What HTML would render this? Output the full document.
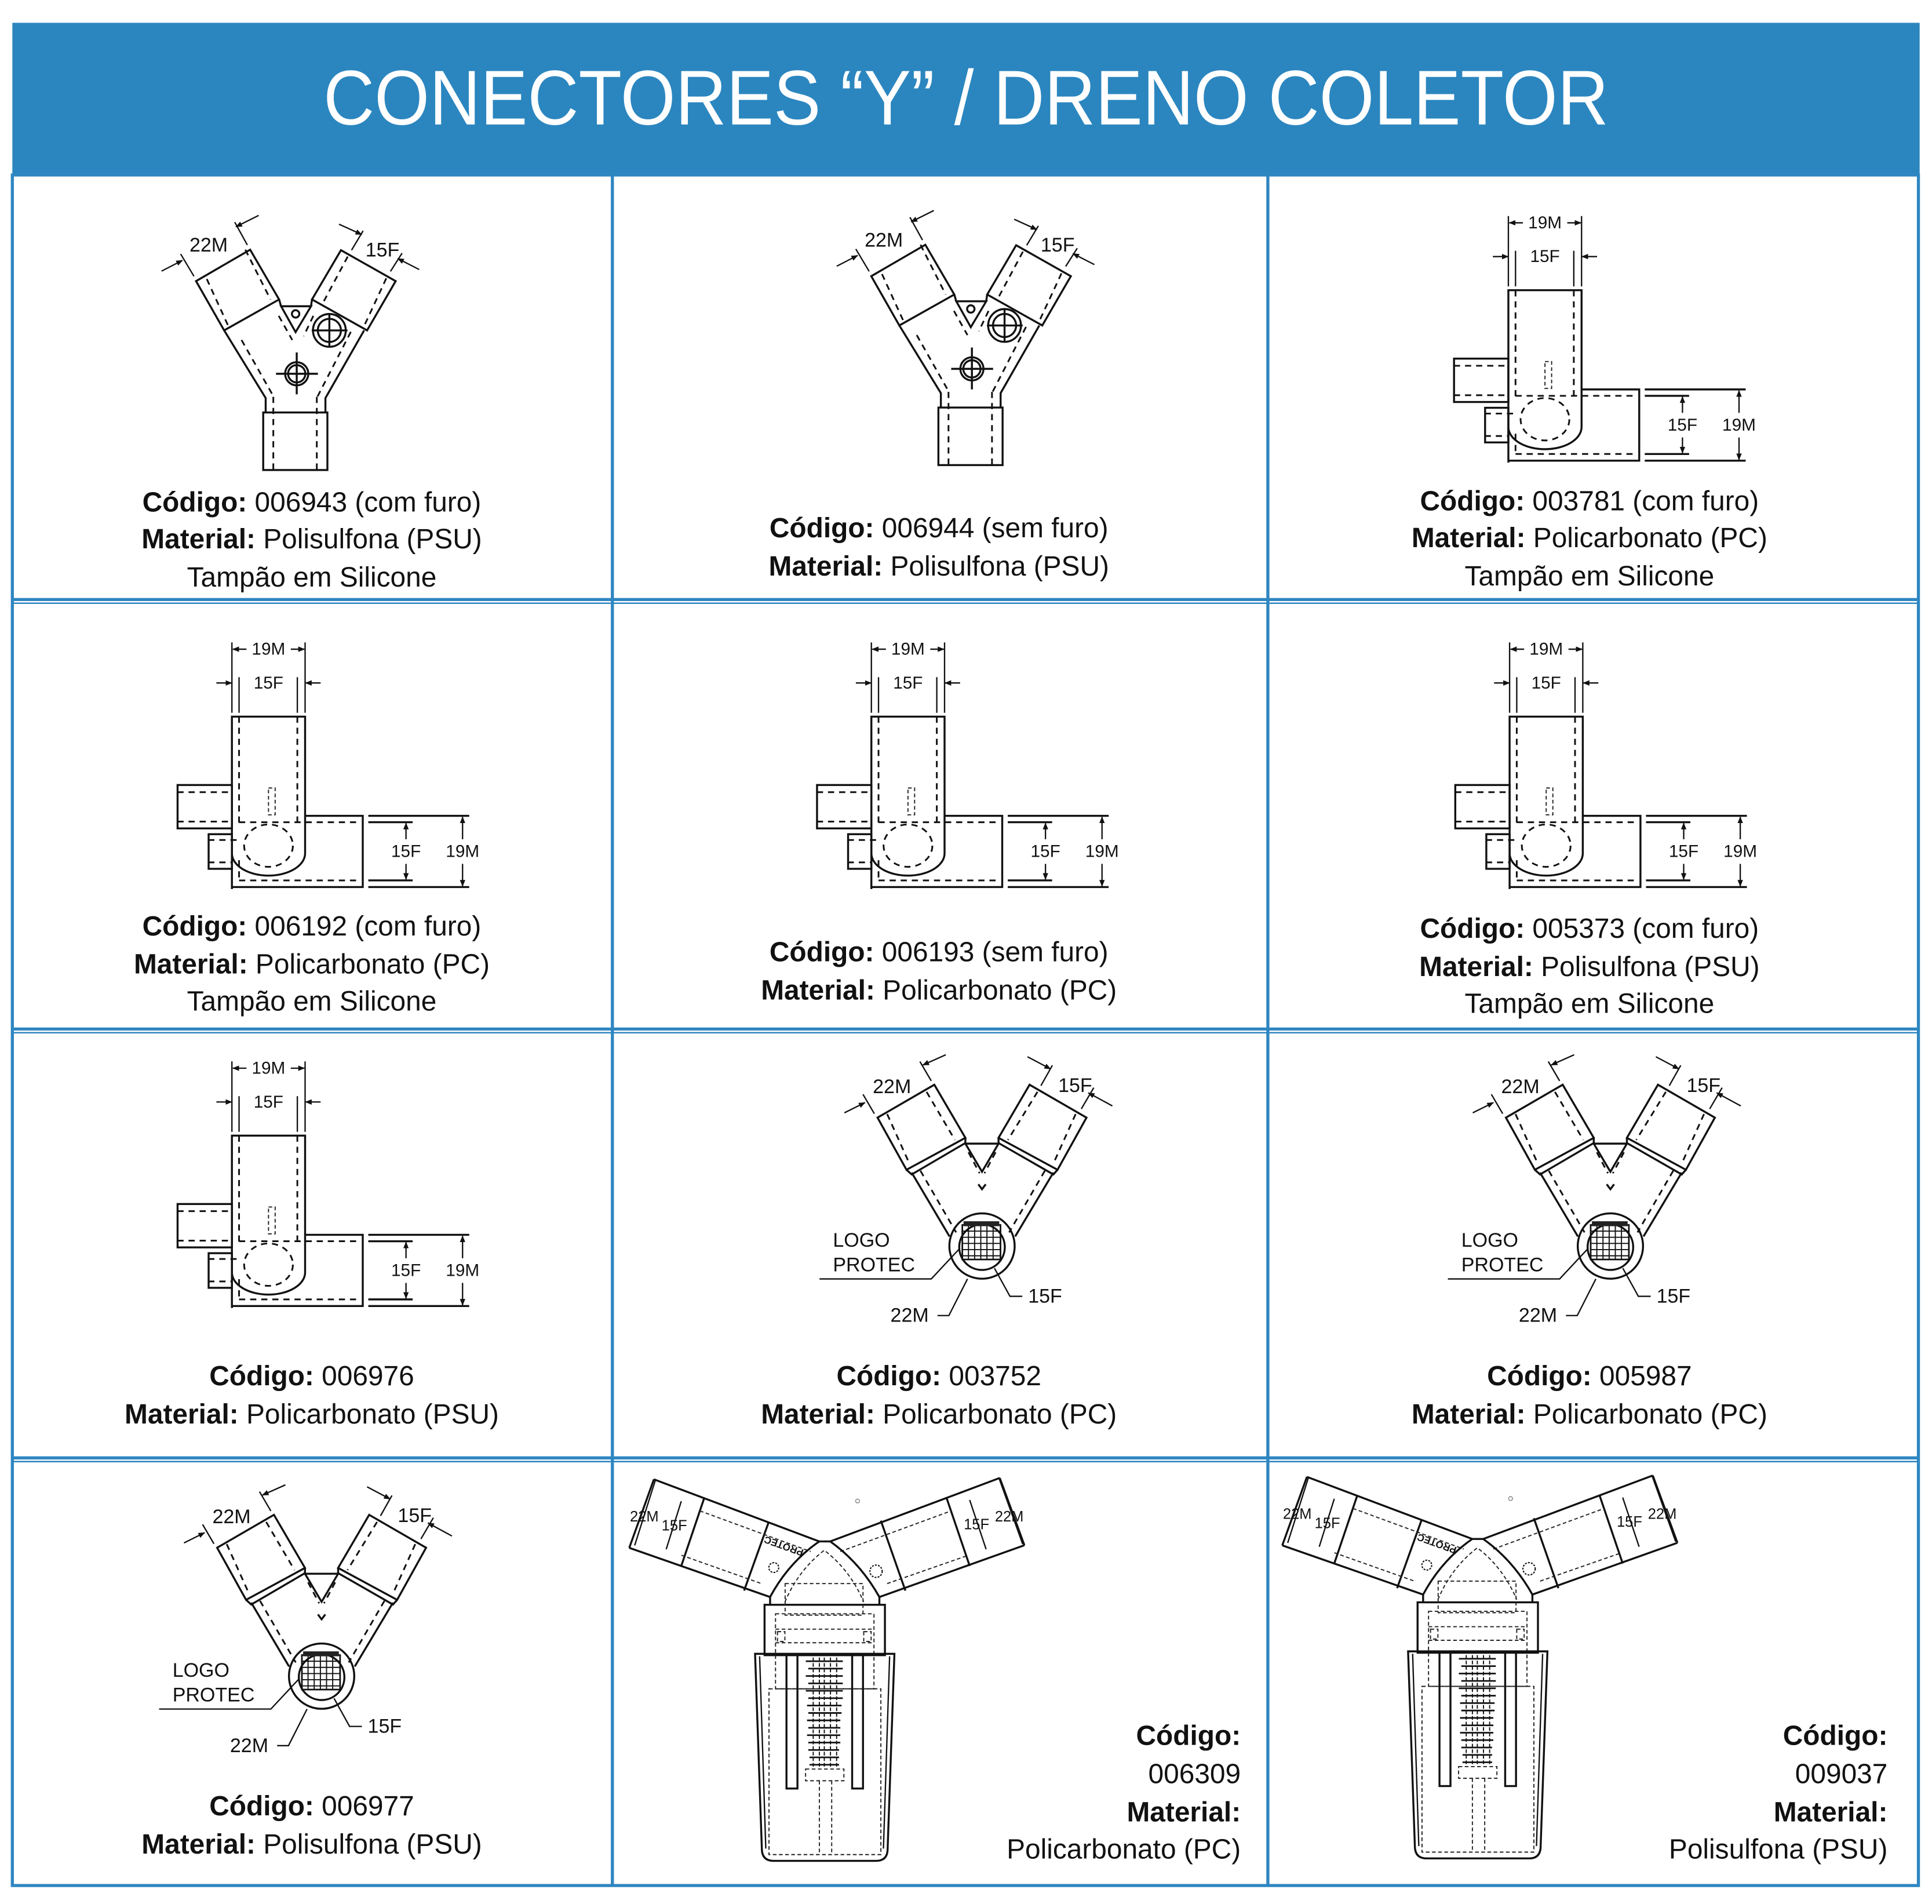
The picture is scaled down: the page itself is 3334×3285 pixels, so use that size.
<!DOCTYPE html>
<html><head><meta charset="utf-8"><style>
html,body{margin:0;padding:0;background:#fff;}
svg{display:block;}
.t{font-family:"Liberation Sans",Arial,sans-serif;fill:#111;}
.cap{font-family:"Liberation Sans",Arial,sans-serif;font-size:22.5px;fill:#111;}
.b{font-weight:bold;}
.ln{fill:none;stroke:#111;stroke-width:1.6;}
.th{fill:none;stroke:#111;stroke-width:1.1;}
.ds{fill:none;stroke:#111;stroke-width:1.4;stroke-dasharray:5 4;}
.dt{fill:none;stroke:#222;stroke-width:0.9;stroke-dasharray:3 2;}
.dl{font-family:"Liberation Sans",Arial,sans-serif;font-size:16px;fill:#111;}
.dm{font-family:"Liberation Sans",Arial,sans-serif;font-size:14px;fill:#111;}
</style></head><body>
<svg width="3334" height="3285" viewBox="0 0 1568 1545" xmlns="http://www.w3.org/2000/svg">
<defs>
<marker id="ar" viewBox="0 0 10 10" refX="9" refY="5" markerWidth="5" markerHeight="5" orient="auto"><path d="M0,1 L10,5 L0,9 Z" fill="#111"/></marker>
<g id="Y1">
  <polygon class="ln" points="159.1,228.1 203,202.6 226.5,243 181.9,268.1"/>
  <polygon class="ln" points="276.7,203 321.1,228.1 297.9,268.1 253.2,243"/>
  <polyline class="ln" points="181.9,268.1 215.6,323 215.6,334.7"/>
  <polyline class="ln" points="295.5,268.1 264.1,323 264.1,334.7"/>
  <polygon class="ln" points="228.1,248.5 252.4,248.5 239.9,269.5"/>
  <line class="ln" x1="226.5" y1="243" x2="228.1" y2="248.5"/>
  <line class="ln" x1="253.2" y1="243" x2="252.4" y2="248.5"/>
  <circle class="ln" cx="239.9" cy="254.7" r="3"/>
  <circle class="ln" cx="267.3" cy="268.1" r="13.3"/>
  <circle class="ln" cx="267.3" cy="268.1" r="9.4"/>
  <line class="ln" x1="253" y1="268.1" x2="282" y2="268.1"/><line class="ln" x1="267.3" y1="254" x2="267.3" y2="282"/>
  <circle class="ln" cx="240.8" cy="303.3" r="9.4"/><circle class="ln" cx="240.8" cy="303.3" r="7"/>
  <line class="ln" x1="224" y1="303.3" x2="258" y2="303.3"/><line class="ln" x1="240.8" y1="286" x2="240.8" y2="320"/>
  <rect class="ln" x="213.6" y="334.7" width="52.1" height="46.7"/>
  <line class="ds" x1="221.8" y1="322" x2="221.8" y2="381"/><line class="ds" x1="257.1" y1="322" x2="257.1" y2="381"/>
  <line class="ds" x1="196" y1="275.9" x2="221.8" y2="321.4"/><line class="ds" x1="284.7" y1="269.3" x2="257.1" y2="322.9"/>
  <line class="ds" x1="226.2" y1="256.3" x2="237.2" y2="275.9"/><line class="ds" x1="254.3" y1="256.3" x2="246.4" y2="272.8"/>
  <line class="ds" x1="167.8" y1="226.4" x2="185.1" y2="264.2"/><line class="ds" x1="199.1" y1="202.6" x2="219.5" y2="243"/>
  <line class="ds" x1="282.2" y1="208.2" x2="261.8" y2="246.3"/><line class="ds" x1="313.5" y1="225.8" x2="294.6" y2="266.5"/>
  <line class="th" x1="146.6" y1="206.1" x2="157.4" y2="224.2"/><line class="th" x1="190.5" y1="180.3" x2="200.7" y2="198.8"/>
  <line class="th" x1="131.1" y1="220" x2="148" y2="211.3" marker-end="url(#ar)"/>
  <line class="th" x1="209.9" y1="174.8" x2="191.5" y2="184" marker-end="url(#ar)"/>
  <line class="th" x1="294.7" y1="187.3" x2="285.3" y2="203"/><line class="th" x1="326.3" y1="205.4" x2="316.9" y2="220.2"/>
  <line class="th" x1="275.1" y1="181.9" x2="293.5" y2="190.3" marker-end="url(#ar)"/>
  <line class="th" x1="340.2" y1="218.7" x2="322.8" y2="209.8" marker-end="url(#ar)"/>
</g>
<g id="T1">
  <path class="ln" d="M1224.2,375.4 L1224.2,235.5 L1283.6,235.5 L1283.6,346.5 A29.7,18 0 0 1 1224.2,346.5"/>
  <polyline class="ln" points="1283.6,316 1330.4,316 1330.4,373.8 1224.2,373.8"/>
  <rect class="ln" x="1180.1" y="291" width="44.1" height="35.2"/>
  <rect class="ln" x="1205.3" y="330.9" width="18.9" height="28.1"/>
  <line class="ds" x1="1230" y1="235.5" x2="1230" y2="323"/><line class="ds" x1="1277.3" y1="235.5" x2="1277.3" y2="323"/>
  <line class="ds" x1="1230" y1="321.2" x2="1329" y2="321.2"/><line class="ds" x1="1230" y1="368.4" x2="1329" y2="368.4"/>
  <line class="ds" x1="1230" y1="352" x2="1230" y2="368.4"/>
  <line class="ds" x1="1180" y1="296.8" x2="1224" y2="296.8"/><line class="ds" x1="1180" y1="320.7" x2="1224" y2="320.7"/>
  <line class="ds" x1="1205" y1="335.6" x2="1230" y2="335.6"/><line class="ds" x1="1205" y1="353.8" x2="1224" y2="353.8"/>
  <ellipse class="ds" cx="1253.9" cy="340.2" rx="19.8" ry="17.2"/>
  <rect class="dt" x="1253.9" y="293.4" width="5.4" height="21.8"/>
  <line class="th" x1="1224.2" y1="175.3" x2="1224.2" y2="232.4"/><line class="th" x1="1283.6" y1="175.3" x2="1283.6" y2="232.4"/>
  <line class="th" x1="1230" y1="203.5" x2="1230" y2="232.4"/><line class="th" x1="1277.3" y1="203.5" x2="1277.3" y2="232.4"/>
  <line class="th" x1="1236" y1="180.8" x2="1225" y2="180.8" marker-end="url(#ar)"/>
  <line class="th" x1="1272" y1="180.8" x2="1283" y2="180.8" marker-end="url(#ar)"/>
  <line class="th" x1="1211.6" y1="208.2" x2="1224" y2="208.2" marker-end="url(#ar)"/>
  <line class="th" x1="1296.2" y1="208.2" x2="1284" y2="208.2" marker-end="url(#ar)"/>
  <line class="ln" x1="1334.9" y1="316" x2="1416.8" y2="316"/><line class="ln" x1="1334.9" y1="373.8" x2="1416.8" y2="373.8"/>
  <line class="ln" x1="1334.9" y1="321.2" x2="1370.9" y2="321.2"/><line class="ln" x1="1334.9" y1="368.4" x2="1370.9" y2="368.4"/>
  <line class="th" x1="1411.4" y1="335" x2="1411.4" y2="317" marker-end="url(#ar)"/>
  <line class="th" x1="1411.4" y1="355" x2="1411.4" y2="373" marker-end="url(#ar)"/>
  <line class="th" x1="1365.5" y1="335" x2="1365.5" y2="322" marker-end="url(#ar)"/>
  <line class="th" x1="1365.5" y1="355" x2="1365.5" y2="367.5" marker-end="url(#ar)"/>
</g>
<g id="YL">
  <polygon class="ln" points="712.2,906.9 758.3,880.2 783.5,923.3 735.7,949.2"/>
  <polygon class="ln" points="835.6,880.2 881.8,906.9 858.3,949.2 810.4,923.3"/>
  <polyline class="ln" points="735.7,949.2 739.9,953 783.5,927.5 783.5,923.3"/>
  <polyline class="ln" points="858.3,949.2 854.9,953 810.4,927.5 810.4,923.3"/>
  <line class="ln" x1="739.9" y1="951.5" x2="770.6" y2="1003.3"/>
  <line class="ln" x1="854.9" y1="951.5" x2="823.9" y2="1003.3"/>
  <polyline class="ln" points="783.5,928 797,950.8 810.4,928"/>
  <line class="ln" x1="783.5" y1="928" x2="810.4" y2="928"/>
  <path class="ln" d="M794,961 L797,965 L800,961"/>
  <circle class="ln" cx="797" cy="1011.1" r="26.5"/>
  <circle class="ln" cx="797" cy="1012" r="18.5"/>
  <rect x="781" y="994" width="31" height="28" fill="none" stroke="#111" stroke-width="1.3"/>
  <path d="M781,999 H812 M781,1004 H812 M781,1009 H812 M781,1014 H812 M781,1019 H812 M786,992 V1022 M791,992 V1022 M796,992 V1022 M801,992 V1022 M806,992 V1022" stroke="#111" stroke-width="0.9"/>
  <rect x="782" y="991" width="29" height="4" fill="#222"/>
  <line class="ds" x1="747" y1="950" x2="776" y2="1000"/><line class="ds" x1="848" y1="950" x2="819" y2="1000"/>
  <line class="ds" x1="786" y1="935" x2="795" y2="952"/><line class="ds" x1="808" y1="935" x2="799" y2="952"/>
  <line class="ds" x1="720" y1="904" x2="738" y2="944"/><line class="ds" x1="752" y1="886" x2="775" y2="925"/>
  <line class="ds" x1="842" y1="886" x2="818" y2="925"/><line class="ds" x1="873" y1="904" x2="855" y2="944"/>
  <polyline class="th" points="665.1,1037.8 755.8,1037.8 778.5,1013.5"/>
  <polyline class="th" points="760.9,1067.5 770.1,1067.5 785.2,1037.8"/>
  <polyline class="th" points="829.7,1051.9 819.7,1051.9 807.1,1029.1"/>
  <line class="th" x1="700.4" y1="888" x2="709.6" y2="903.7"/><line class="th" x1="746.6" y1="861.4" x2="755.8" y2="877.1"/>
  <line class="th" x1="685.3" y1="903" x2="702" y2="894.7" marker-end="url(#ar)"/>
  <line class="th" x1="767.6" y1="855.9" x2="749" y2="864.2" marker-end="url(#ar)"/>
  <line class="th" x1="854.1" y1="864.5" x2="844.8" y2="881"/><line class="th" x1="887.7" y1="882.6" x2="877.6" y2="899.8"/>
  <line class="th" x1="833.9" y1="857.5" x2="852.6" y2="867.4" marker-end="url(#ar)"/>
  <line class="th" x1="902.8" y1="897.4" x2="883.3" y2="886.8" marker-end="url(#ar)"/>
</g>
<g id="DR">
  <line class="ln" x1="530.7" y1="1200.4" x2="664.9" y2="1250.8"/>
  <line class="ln" x1="510.7" y1="1256" x2="625" y2="1295.9"/>
  <line class="ln" x1="530.7" y1="1200.4" x2="510.7" y2="1256"/>
  <line class="ln" x1="571.7" y1="1215.1" x2="552.9" y2="1270.7"/>
  <line class="ln" x1="623.9" y1="1235" x2="603.9" y2="1290.7"/>
  <line class="dt" x1="568" y1="1226" x2="658" y2="1259"/><line class="dt" x1="553" y1="1262" x2="618" y2="1285"/>
  <line class="ln" x1="673.8" y1="1250.8" x2="811.4" y2="1199.3"/>
  <line class="ln" x1="713.7" y1="1295.9" x2="831.4" y2="1253.9"/>
  <line class="ln" x1="811.4" y1="1199.3" x2="831.4" y2="1253.9"/>
  <line class="ln" x1="768.1" y1="1215.1" x2="787" y2="1270.7"/>
  <line class="ln" x1="714.9" y1="1234" x2="734.8" y2="1290.7"/>
  <line class="dt" x1="682" y1="1259" x2="772" y2="1226"/><line class="dt" x1="720" y1="1285" x2="786" y2="1262"/>
  <path class="ln" d="M625,1302 L625,1295.9 Q640,1268 664.9,1250.8 L673.8,1250.8 Q698,1268 713.7,1295.9 L713.7,1302"/>
  <path class="dt" d="M637,1300 Q648,1274 669,1258 Q690,1274 701,1300"/>
  <rect class="ln" x="620.5" y="1302.2" width="97.7" height="40.9"/>
  <rect class="dt" x="629.4" y="1309.5" width="79.9" height="60.9"/>
  <rect class="dt" x="637.2" y="1285" width="63.2" height="25.6"/>
  <line class="dt" x1="629.4" y1="1322" x2="709.3" y2="1322"/><line class="dt" x1="629.4" y1="1333" x2="709.3" y2="1333"/>
  <rect class="dt" x="631" y="1324" width="6" height="8"/><rect class="dt" x="701" y="1324" width="6" height="8"/>
  <path class="ln" d="M612.8,1342 L725.9,1342 L720.4,1500 Q720.4,1510 711,1510 L628,1510 Q618.3,1510 618.3,1500 Z"/>
  <line class="th" x1="616.5" y1="1344" x2="621.5" y2="1500"/><line class="th" x1="722" y1="1344" x2="717" y2="1500"/>
  <rect class="dt" x="624.1" y="1370.4" width="90.8" height="134.5"/>
  <rect class="ln" x="638.3" y="1343" width="8.9" height="108.3"/>
  <rect class="ln" x="691.6" y="1343" width="8.8" height="108.3"/>
  <rect class="dt" x="653.8" y="1435.5" width="31.1" height="9.5"/>
  <line class="dt" x1="665" y1="1445" x2="665" y2="1505"/><line class="dt" x1="675" y1="1445" x2="675" y2="1505"/>
  <path d="M654,1348 h30 M656,1354 h28 M654,1360 h30 M656,1366 h28 M654,1372 h30 M656,1378 h28 M655,1384 h28 M656,1390 h27 M655,1396 h27 M656,1402 h26 M655,1408 h27 M656,1414 h26 M656,1420 h25 M657,1426 h24 M657,1432 h24" stroke="#111" stroke-width="1.3" fill="none"/>
  <path d="M660,1345 V1435 M665,1345 V1435 M669,1345 V1435 M674,1345 V1435 M679,1345 V1435" stroke="#111" stroke-width="0.9" stroke-dasharray="3 1.5" fill="none"/>
  <line class="th" x1="531.8" y1="1201.4" x2="515.1" y2="1254"/>
  <line class="th" x1="552.9" y1="1218.2" x2="540.7" y2="1257.1"/>
  <line class="th" x1="787" y1="1217.2" x2="800.3" y2="1257.1"/>
  <line class="th" x1="811" y1="1200" x2="830" y2="1253"/>
  <circle cx="628" cy="1272" r="4" fill="none" stroke="#111" stroke-width="1" stroke-dasharray="1.5 1"/>
  <circle cx="711" cy="1275" r="5" fill="none" stroke="#111" stroke-width="1" stroke-dasharray="1.5 1"/>
  <circle cx="696" cy="1218" r="1.6" fill="none" stroke="#777" stroke-width="0.6"/>
</g>
</defs>

<rect x="10" y="18.5" width="1548" height="124" fill="#2b86bf"/>
<text x="784" y="101" text-anchor="middle" class="t" style="fill:#fff;font-size:63px" textLength="1043" lengthAdjust="spacingAndGlyphs">CONECTORES “Y” / DRENO COLETOR</text>

<g fill="none" stroke="#2e86c1" stroke-width="2.5">
  <rect x="10" y="142" width="1547" height="1388"/>
  <line x1="497" y1="142" x2="497" y2="1530"/>
  <line x1="1029" y1="142" x2="1029" y2="1530"/>
  <line x1="10" y1="486.5" x2="1557" y2="486.5"/>
  <line x1="10" y1="835" x2="1557" y2="835"/>
  <line x1="10" y1="1183" x2="1557" y2="1183"/>
</g>
<g fill="none" stroke="#2e86c1" stroke-width="1.2">
  <line x1="10" y1="489.5" x2="1557" y2="489.5"/>
  <line x1="10" y1="838" x2="1557" y2="838"/>
  <line x1="10" y1="1186" x2="1557" y2="1186"/>
</g>

<use href="#Y1"/>
<use href="#Y1" transform="translate(548,-4)"/>
<use href="#T1"/>
<use href="#T1" transform="translate(-1036,346)"/>
<use href="#T1" transform="translate(-517,346)"/>
<use href="#T1" transform="translate(1,346)"/>
<use href="#T1" transform="translate(-1036,686)"/>
<use href="#YL"/>
<use href="#YL" transform="translate(510,0)"/>
<use href="#YL" transform="translate(-536,349)"/>
<use href="#DR"/>
<use href="#DR" transform="translate(530,-2)"/>

<g class="dl" text-anchor="middle" dominant-baseline="central">
  <text x="169.3" y="199">22M</text><text x="310.4" y="203">15F</text>
  <text x="717.3" y="195">22M</text><text x="858.4" y="199">15F</text>
  <text x="723.9" y="881.8">22M</text><text x="872.6" y="881">15F</text>
  <text x="738.2" y="1067.5">22M</text><text x="848.2" y="1051.9">15F</text>
  <text x="1233.9" y="881.8">22M</text><text x="1382.6" y="881">15F</text>
  <text x="1248.2" y="1067.5">22M</text><text x="1358.2" y="1051.9">15F</text>
  <text x="187.9" y="1230.8">22M</text><text x="336.6" y="1230">15F</text>
  <text x="202.2" y="1416.5">22M</text><text x="312.2" y="1400.9">15F</text>
</g>
<g class="dl" text-anchor="start" dominant-baseline="central">
  <text x="676" y="1006.4">LOGO</text><text x="676" y="1026.5">PROTEC</text>
  <text x="1186" y="1006.4">LOGO</text><text x="1186" y="1026.5">PROTEC</text>
  <text x="140" y="1355.4">LOGO</text><text x="140" y="1375.5">PROTEC</text>
</g>
<g class="dm" text-anchor="middle" dominant-baseline="central">
  <text x="1253.9" y="180.8">19M</text><text x="1253.9" y="208.2">15F</text>
  <text x="1365.5" y="345">15F</text><text x="1411.4" y="345">19M</text>
  <text x="217.9" y="526.8">19M</text><text x="217.9" y="554.2">15F</text>
  <text x="329.5" y="691">15F</text><text x="375.4" y="691">19M</text>
  <text x="736.9" y="526.8">19M</text><text x="736.9" y="554.2">15F</text>
  <text x="848.5" y="691">15F</text><text x="894.4" y="691">19M</text>
  <text x="1254.9" y="526.8">19M</text><text x="1254.9" y="554.2">15F</text>
  <text x="1366.5" y="691">15F</text><text x="1412.4" y="691">19M</text>
  <text x="217.9" y="866.8">19M</text><text x="217.9" y="894.2">15F</text>
  <text x="329.5" y="1031">15F</text><text x="375.4" y="1031">19M</text>
</g>
<g class="t" style="font-size:12px" text-anchor="middle" dominant-baseline="central">
  <text x="522.9" y="1230.8">22M</text><text x="547.3" y="1238.2">15F</text>
  <text x="792.5" y="1237.1">15F</text><text x="819.1" y="1230.8">22M</text>
  <text x="1052.9" y="1228.8">22M</text><text x="1077.3" y="1236.2">15F</text>
  <text x="1322.5" y="1235.1">15F</text><text x="1349.1" y="1228.8">22M</text>
</g>
<g class="t" style="font-size:8px;font-weight:bold" text-anchor="middle">
  <text x="0" y="0" transform="translate(637,1252) rotate(200)">PROTEC</text>
  <text x="0" y="0" transform="translate(1167,1250) rotate(200)">PROTEC</text>
</g>

<g class="cap" text-anchor="middle">
  <text x="253" y="415"><tspan class="b">Código:</tspan> 006943 (com furo)</text>
  <text x="253" y="445"><tspan class="b">Material:</tspan> Polisulfona (PSU)</text>
  <text x="253" y="476">Tampão em Silicone</text>
  <text x="762" y="436"><tspan class="b">Código:</tspan> 006944 (sem furo)</text>
  <text x="762" y="467"><tspan class="b">Material:</tspan> Polisulfona (PSU)</text>
  <text x="1290" y="414"><tspan class="b">Código:</tspan> 003781 (com furo)</text>
  <text x="1290" y="444"><tspan class="b">Material:</tspan> Policarbonato (PC)</text>
  <text x="1290" y="475">Tampão em Silicone</text>

  <text x="253" y="759"><tspan class="b">Código:</tspan> 006192 (com furo)</text>
  <text x="253" y="790"><tspan class="b">Material:</tspan> Policarbonato (PC)</text>
  <text x="253" y="820">Tampão em Silicone</text>
  <text x="762" y="780"><tspan class="b">Código:</tspan> 006193 (sem furo)</text>
  <text x="762" y="811"><tspan class="b">Material:</tspan> Policarbonato (PC)</text>
  <text x="1290" y="761"><tspan class="b">Código:</tspan> 005373 (com furo)</text>
  <text x="1290" y="792"><tspan class="b">Material:</tspan> Polisulfona (PSU)</text>
  <text x="1290" y="822">Tampão em Silicone</text>

  <text x="253" y="1124"><tspan class="b">Código:</tspan> 006976</text>
  <text x="253" y="1155"><tspan class="b">Material:</tspan> Policarbonato (PSU)</text>
  <text x="762" y="1124"><tspan class="b">Código:</tspan> 003752</text>
  <text x="762" y="1155"><tspan class="b">Material:</tspan> Policarbonato (PC)</text>
  <text x="1290" y="1124"><tspan class="b">Código:</tspan> 005987</text>
  <text x="1290" y="1155"><tspan class="b">Material:</tspan> Policarbonato (PC)</text>

  <text x="253" y="1473"><tspan class="b">Código:</tspan> 006977</text>
  <text x="253" y="1504"><tspan class="b">Material:</tspan> Polisulfona (PSU)</text>
</g>
<g class="cap" text-anchor="end">
  <text x="1007" y="1416" class="cap b">Código:</text>
  <text x="1007" y="1447">006309</text>
  <text x="1007" y="1478" class="cap b">Material:</text>
  <text x="1007" y="1508">Policarbonato (PC)</text>
  <text x="1532" y="1416" class="cap b">Código:</text>
  <text x="1532" y="1447">009037</text>
  <text x="1532" y="1478" class="cap b">Material:</text>
  <text x="1532" y="1508">Polisulfona (PSU)</text>
</g>
</svg>
</body></html>
